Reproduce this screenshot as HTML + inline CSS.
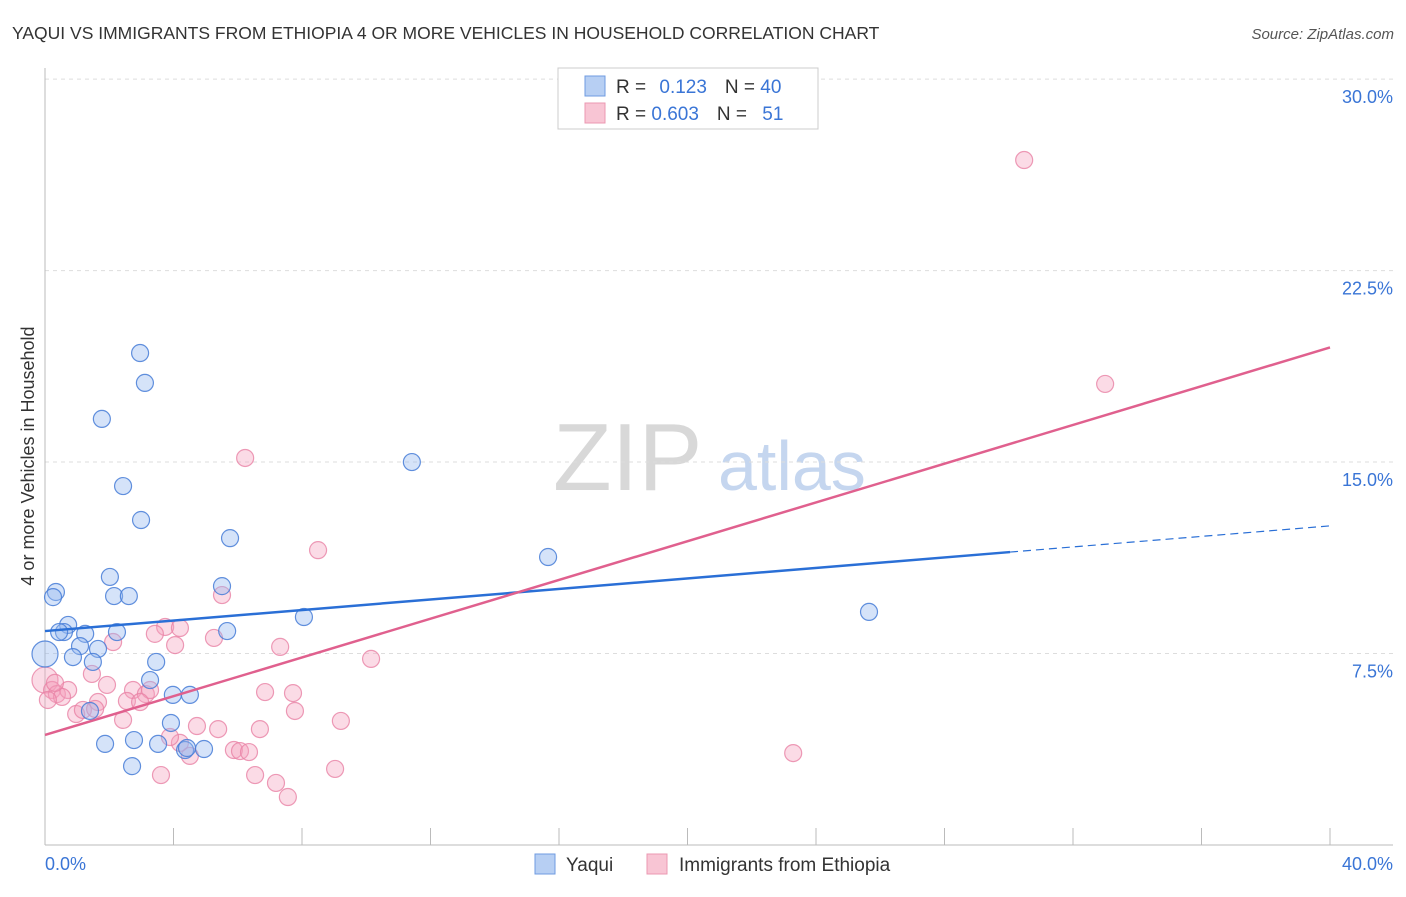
<!DOCTYPE html>
<html><head><meta charset="utf-8"><style>
body{margin:0;background:#fff;font-family:"Liberation Sans",sans-serif;}
svg text{font-family:"Liberation Sans",sans-serif;}
</style></head><body>
<svg id="chart" width="1406" height="892" viewBox="0 0 1406 892">
<text x="12" y="39" font-size="17.5" fill="#333">YAQUI VS IMMIGRANTS FROM ETHIOPIA 4 OR MORE VEHICLES IN HOUSEHOLD CORRELATION CHART</text>
<text x="1394" y="39" font-size="15" fill="#555" font-style="italic" text-anchor="end">Source: ZipAtlas.com</text>
<g>
<text x="553" y="490" font-size="96" fill="#d8d8d8" font-family="Liberation Serif">ZIP</text>
<text x="718" y="490" font-size="70" fill="#c5d6ef">atlas</text>
</g>
<g id="grid"></g><g id="axes"></g><g id="marks"></g>
<text transform="translate(34,456) rotate(-90)" font-size="18" fill="#333" text-anchor="middle">4 or more Vehicles in Household</text>
<g>
<rect x="558" y="68" width="260" height="61" fill="#fff" stroke="#ccc"/>
<rect x="585" y="76" width="20" height="20" fill="#b7cff3" stroke="#6f9be0"/>
<rect x="585" y="103" width="20" height="20" fill="#f8c5d4" stroke="#eb98b2"/>
<text x="616" y="93" font-size="19" fill="#333">R = <tspan fill="#3a75d6" dx="8">0.123</tspan><tspan dx="18" fill="#333">N = </tspan><tspan fill="#3a75d6">40</tspan></text>
<text x="616" y="120" font-size="19" fill="#333">R = <tspan fill="#3a75d6">0.603</tspan><tspan dx="18" fill="#333">N = </tspan><tspan fill="#3a75d6" dx="10">51</tspan></text>
</g>
<g>
<rect x="535" y="854" width="20" height="20" fill="#b7cff3" stroke="#6f9be0"/>
<text x="566" y="871" font-size="19" fill="#333">Yaqui</text>
<rect x="647" y="854" width="20" height="20" fill="#f8c5d4" stroke="#eb98b2"/>
<text x="679" y="871" font-size="19" fill="#333">Immigrants from Ethiopia</text>
</g>
</svg>
<script>
const yTicks=[7.5,15,22.5,30];
const yTickLabels=["7.5%","15.0%","22.5%","30.0%"];
const xTicks=[0,4,8,12,16,20,24,28,32,36,40];
const xEndLabels=["0.0%","40.0%"];
const yaquiX=[2.96,3.11,1.77,2.43,2.99,11.42,5.76,15.66,2.02,5.51,0.34,0.25,2.15,2.61,25.65,8.06,0.72,0.59,1.25,0.44,2.24,5.67,1.09,1.65,0.87,1.49,3.46,0.0,3.27,3.98,4.51,1.40,3.92,1.87,2.77,3.52,4.36,4.95,2.71,4.42];
const yaquiY=[19.27,18.10,16.69,14.06,12.73,15.00,12.02,11.28,10.50,10.14,9.91,9.71,9.75,9.75,9.13,8.93,8.62,8.34,8.27,8.34,8.34,8.38,7.79,7.68,7.36,7.17,7.17,7.48,6.46,5.88,5.88,5.25,4.78,3.96,4.11,3.96,3.72,3.76,3.09,3.80];
const ethX=[30.48,33.00,6.23,8.50,5.51,3.74,4.20,3.42,2.12,5.26,4.05,7.32,10.15,1.46,0.0,0.22,0.37,0.72,0.53,1.93,2.74,3.14,3.27,6.85,7.72,1.65,2.55,2.43,0.97,1.18,1.56,7.78,9.21,4.73,5.39,6.69,5.88,6.07,6.35,4.20,4.51,3.61,6.54,7.19,7.56,9.03,23.29,0.09,0.31,3.89,2.96];
const ethY=[26.83,18.06,15.16,11.55,9.79,8.54,8.50,8.27,7.95,8.11,7.83,7.76,7.29,6.70,6.46,6.07,5.91,6.07,5.80,6.27,6.07,5.91,6.07,5.99,5.95,5.60,5.64,4.90,5.13,5.29,5.33,5.25,4.86,4.66,4.54,4.54,3.72,3.68,3.64,4.00,3.49,2.74,2.74,2.43,1.88,2.98,3.60,5.68,6.35,4.23,5.60];
const yaquiTrend=[8.38,12.5]; const yaquiSolidEnd=30.04;
const ethTrend=[4.31,19.49];
const NS="http://www.w3.org/2000/svg";
const X=v=>45+v/40*1285, Y=v=>845-v*25.53;
function mk(p,t,a){const e=document.createElementNS(NS,t);for(const k in a)e.setAttribute(k,a[k]);p.appendChild(e);return e;}
const grid=document.getElementById('grid'),axes=document.getElementById('axes'),marks=document.getElementById('marks');
yTicks.forEach((v,i)=>{
 const l=mk(grid,'line',{x1:45,x2:1393,y1:Y(v),y2:Y(v),stroke:'#ddd','stroke-dasharray':'4 4'});
 
 
 const t=mk(axes,'text',{x:1393,y:Y(v)+24,'font-size':18,fill:'#3a75d6','text-anchor':'end'});t.textContent=yTickLabels[i];
 
 
});
mk(axes,'line',{x1:45,x2:45,y1:68,y2:845,stroke:'#bbb'});
mk(axes,'line',{x1:45,x2:1393,y1:845,y2:845,stroke:'#bbb'});
xTicks.forEach(v=>{const t=mk(axes,'line',{x1:X(v),x2:X(v),y1:828,y2:845,stroke:'#bbb'});
 
 });
const xl0=mk(axes,'text',{x:45,y:870,'font-size':18,fill:'#3a75d6'});xl0.textContent=xEndLabels[0];


const xl1=mk(axes,'text',{x:1393,y:870,'font-size':18,fill:'#3a75d6','text-anchor':'end'});xl1.textContent=xEndLabels[1];


function pts(xs,ys,fill,stroke,name){xs.forEach((x,i)=>{const big=(x===0);const c=mk(marks,'circle',{cx:X(x),cy:Y(ys[i]),r:big?13:8.5,fill:fill,stroke:stroke,'stroke-width':1.2});
 
 });}
pts(ethX,ethY,'rgba(244,160,188,0.38)','rgba(232,130,165,0.8)','ethiopia-point');
pts(yaquiX,yaquiY,'rgba(150,185,240,0.4)','rgba(70,125,215,0.85)','yaqui-point');
const yAt=(tr,x)=>tr[0]+(tr[1]-tr[0])*x/40;
const bl=mk(marks,'line',{x1:X(0),y1:Y(yAt(yaquiTrend,0)),x2:X(yaquiSolidEnd),y2:Y(yAt(yaquiTrend,yaquiSolidEnd)),stroke:'#2a6fd6','stroke-width':2.5});


const bd=mk(marks,'line',{x1:X(yaquiSolidEnd),y1:Y(yAt(yaquiTrend,yaquiSolidEnd)),x2:X(40),y2:Y(yAt(yaquiTrend,40)),stroke:'#2a6fd6','stroke-width':1.2,'stroke-dasharray':'8 5'});


const pl=mk(marks,'line',{x1:X(0),y1:Y(yAt(ethTrend,0)),x2:X(40),y2:Y(yAt(ethTrend,40)),stroke:'#e0608e','stroke-width':2.5});


</script>
</body></html>
